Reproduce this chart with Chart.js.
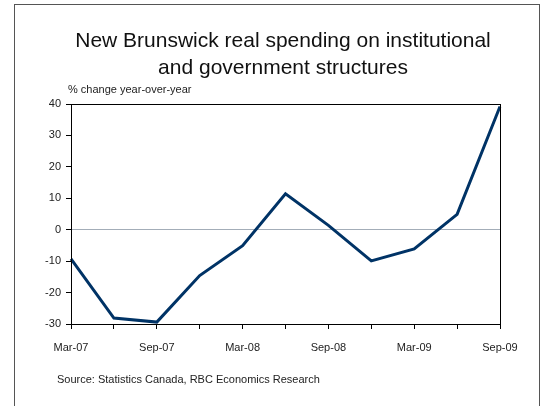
<!DOCTYPE html>
<html>
<head>
<meta charset="utf-8">
<script src="https://cdn.jsdelivr.net/npm/chart.js@4"></script>
<style>
  html, body { margin: 0; padding: 0; background: #fff; }
  #wrap { position: relative; width: 546px; height: 406px; overflow: hidden; }
  #frame { position: absolute; left: 14px; top: 4px; width: 526px; height: 430px; border: 1px solid #555; box-sizing: border-box; }
  #chart { position: absolute; left: 0; top: 0; }
  .note { position: absolute; font-family: "Liberation Sans", Arial, sans-serif; font-size: 11px; color: #222; white-space: nowrap; }
  #title { position: absolute; left: 183px; width: 200px; top: 26px; text-align: center; font-family: "Liberation Sans", Arial, sans-serif; font-size: 21px; line-height: 27px; color: #111; white-space: nowrap; display: flex; flex-direction: column; align-items: center; }
</style>
</head>
<body>
<div id="wrap">
  <div id="frame"></div>
  <canvas id="chart" width="546" height="406"></canvas>
  <div id="title"><span>New Brunswick real spending on institutional</span><span>and government structures</span></div>
  <div class="note" style="left:68px; top:83px;">% change year-over-year</div>
  <div class="note" style="left:57px; top:373px;">Source: Statistics Canada, RBC Economics Research</div>
</div>
<script>
    // Quarterly data, Mar-07 to Sep-09
    const quarters = ['Mar-07', 'Jun-07', 'Sep-07', 'Dec-07', 'Mar-08', 'Jun-08', 'Sep-08', 'Dec-08', 'Mar-09', 'Jun-09', 'Sep-09'];
    const spending = [-9.3, -28.1, -29.4, -14.6, -5.1, 11.4, 1.4, -9.9, -6.1, 4.9, 39.2];
    const yTicks = [-30, -20, -10, 0, 10, 20, 30, 40];

    const fontFamily = '"Liberation Sans", Arial, sans-serif';

    // draws the black box round the plot
    const plotBorder = {
        id: 'plotBorder',
        afterDraw(chart) {
            const a = chart.chartArea;
            const ctx = chart.ctx;
            ctx.save();
            ctx.strokeStyle = '#000';
            ctx.lineWidth = 1;
            ctx.strokeRect(Math.round(a.left) + 0.5, Math.round(a.top) + 0.5, Math.round(a.right - a.left), Math.round(a.bottom - a.top));
            ctx.restore();
        }
    };

    const ctx = document.getElementById('chart').getContext('2d');
    new Chart(ctx, {
        type: 'line',
        data: {
            labels: quarters,
            datasets: [{
                data: spending,
                borderColor: '#003366',
                borderWidth: 3,
                pointRadius: 0,
                tension: 0,
                fill: false
            }]
        },
        options: {
            responsive: false,
            animation: false,
            layout: { padding: { left: 0, right: 46, top: 104, bottom: 0 } },
            plugins: {
                legend: { display: false },
                tooltip: { enabled: false },
                title: { display: false }
            },
            scales: {
                x: {
                    type: 'category',
                    offset: false,
                    afterFit(scale) { scale.height = 82; },
                    border: { display: true, color: '#000', width: 1 },
                    grid: { drawOnChartArea: false, color: '#000', tickLength: 5 },
                    ticks: {
                        autoSkip: false,
                        maxRotation: 0,
                        padding: 12,
                        color: '#222',
                        font: { family: fontFamily, size: 11 },
                        callback: function (val, i) { return i % 2 === 0 ? this.getLabelForValue(val) : ''; }
                    }
                },
                y: {
                    min: -30,
                    max: 40,
                    afterFit(scale) { scale.width = 71; },
                    afterBuildTicks(scale) { scale.ticks = yTicks.map(v => ({ value: v })); },
                    border: { display: true, color: '#000', width: 1 },
                    grid: {
                        color: c => (c.tick && c.tick.value === 0 ? '#a3adb8' : 'rgba(0,0,0,0)'),
                        tickColor: '#000',
                        tickLength: 5,
                        lineWidth: 1
                    },
                    ticks: {
                        padding: 5,
                        color: '#222',
                        font: { family: fontFamily, size: 11 }
                    }
                }
            }
        },
        plugins: [plotBorder]
    });
</script>
</body>
</html>
